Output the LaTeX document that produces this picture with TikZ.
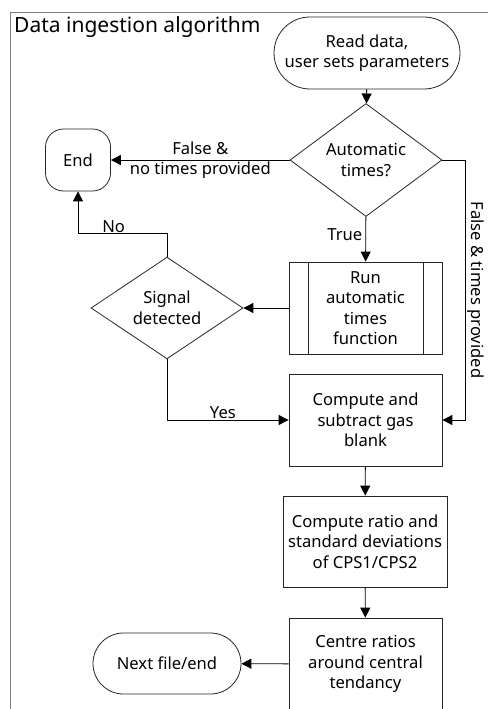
\documentclass[tikz,border=0pt]{standalone}
\usepackage{fontspec}
\setmainfont{Noto Sans}
\usetikzlibrary{positioning}
\usetikzlibrary{shapes.geometric}
\usetikzlibrary{shapes.misc}
\usetikzlibrary{arrows.meta}

\tikzset{
	flow/.style = {black, line width = 0.9pt, -{Triangle[length = 10pt, width = 10pt]}},
	box/.style = {draw = black!85, line width = 0.8pt, align = center, inner sep = 2pt, minimum width = 153pt, minimum height = 92pt},
	decision/.style = {diamond, draw = black!85, line width = 0.8pt, align = center, inner sep = 0pt, minimum width = 152pt, minimum height = 91pt},
	terminal/.style = {rounded rectangle, draw = black!85, line width = 0.8pt, align = center, inner sep = 2pt},
	subroutine/.style = {box, path picture = {
		\draw [black!85, line width = 0.8pt] ([xshift = 19pt] path picture bounding box.north west) -- ([xshift = 19pt] path picture bounding box.south west);
		\draw [black!85, line width = 0.8pt] ([xshift = -19pt] path picture bounding box.north east) -- ([xshift = -19pt] path picture bounding box.south east);
	}}
}

\begin{document}
\begin{tikzpicture}[x = 1pt, y = -1pt, font = \fontsize{16.6}{20.5}\selectfont]
	\useasboundingbox (0, 0) rectangle (487, 709);
	% frame and title
	\draw [gray, line width = 0.8pt] (10, 712) -- (10, 12) -- (490, 12);
	\node [anchor = base west, inner sep = 0pt, font = \fontsize{21}{24}\selectfont] (title) at (14, 33) {Data ingestion algorithm};

	\node [terminal, minimum width = 190pt, minimum height = 72pt] (read) at (367, 53) {Read data,\\user sets parameters};
	\node [decision] (auto) at (366, 160) {Automatic\\times?};
	\node [draw = black!85, line width = 0.8pt, rounded corners = 18pt, minimum width = 65pt, minimum height = 62pt] (end) at (78, 160) {End};
	\node [subroutine] (run) at (365.5, 308) {Run\\automatic\\times\\function};
	\node [decision] (signal) at (167, 308) {Signal\\detected};
	\node [box] (gas) at (365.5, 420) {Compute and\\subtract gas\\blank};
	\node [box, minimum width = 164pt, minimum height = 91pt] (ratio) at (365, 541.5) {Compute ratio and\\standard deviations\\of CPS1/CPS2};
	\node [box] (centre) at (365.5, 664) {Centre ratios\\around central\\tendancy};
	\node [terminal, minimum width = 152pt, minimum height = 61pt] (next) at (167, 663.5) {Next file/end};

	\draw [flow] (read) -- (auto);
	\draw [flow] (auto) -- node [align = center] {False \&\\no times provided} (end);
	\draw [flow] (auto.east) -- ++(23, 0) |- node [pos = 0.25, rotate = -90, anchor = south, inner sep = 2pt] {False \& times provided} (gas.east);
	\draw [flow] (auto) -- node [pos = 0.4, left, inner sep = 3pt] {True} (run);
	\draw [flow] (run) -- (signal);
	\draw [flow] (signal.north) -- ++(0, -23) -| node [pos = 0.3, above, inner sep = 1pt] {No} (end.south);
	\draw [flow] (signal.south) |- node [pos = 0.73, above, inner sep = 1pt] {Yes} (gas.west);
	\draw [flow] (gas) -- (ratio);
	\draw [flow] (ratio) -- (centre);
	\draw [flow] (centre) -- (next);
\end{tikzpicture}
\end{document}
